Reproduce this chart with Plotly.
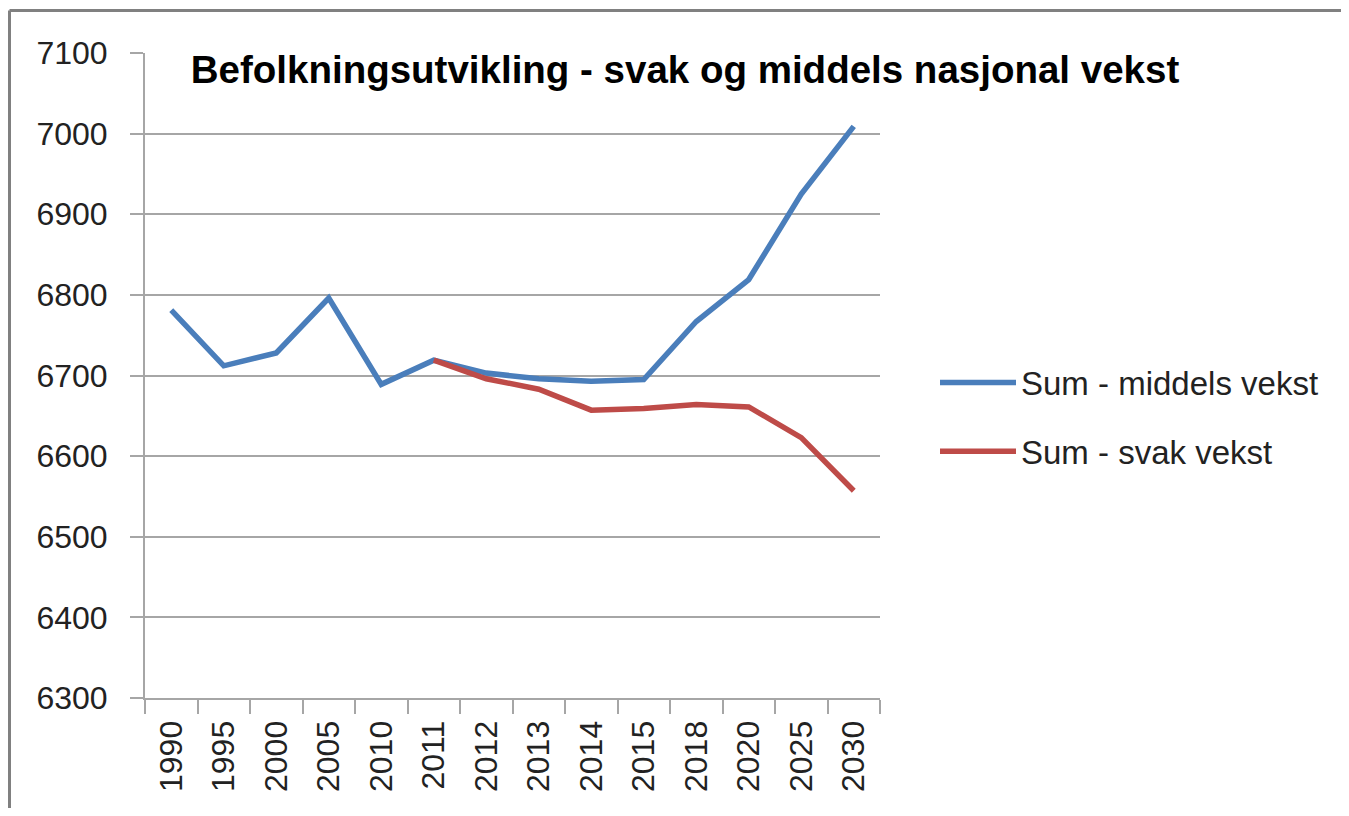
import plotly.graph_objects as go

categories = ["1990", "1995", "2000", "2005", "2010", "2011", "2012", "2013",
              "2014", "2015", "2018", "2020", "2025", "2030"]
middels = [6781, 6712, 6728, 6796, 6689, 6719, 6703, 6696, 6693, 6695,
           6767, 6819, 6925, 7009]
svak_categories = ["2011", "2012", "2013", "2014", "2015", "2018", "2020", "2025", "2030"]
svak = [6719, 6696, 6683, 6657, 6659, 6664, 6661, 6623, 6557]
y_ticks = [6300, 6400, 6500, 6600, 6700, 6800, 6900, 7000, 7100]

FONT = "Liberation Sans, Arial, sans-serif"
GRID = "#a6a6a6"

# page body has an 8px margin, so figure coordinates are offset by 8px
W, H = 1333, 800
L, T, PW, PH = 137, 45, 735, 645
R = W - L - PW
B = H - T - PH

fig = go.Figure()
fig.add_trace(go.Scatter(x=categories, y=middels, mode="lines",
                         name="Sum - middels vekst", legendgroup="a",
                         line=dict(color="#4a7ebb", width=5.5)))
fig.add_trace(go.Scatter(x=svak_categories, y=svak, mode="lines",
                         name="Sum - svak vekst", legendgroup="b",
                         line=dict(color="#be4b48", width=5.5)))

fig.update_layout(
    width=W, height=H,
    margin=dict(l=L, r=R, t=T, b=B),
    paper_bgcolor="white", plot_bgcolor="white",
    font=dict(family=FONT, size=32, color="#222222"),
    title=dict(text="<b>Befolkningsutvikling - svak og middels nasjonal vekst</b>",
               xref="container", yref="container", x=677 / W, y=1 - 62 / H,
               xanchor="center", yanchor="middle",
               font=dict(family=FONT, size=38.5, color="black")),
    showlegend=True,
    legend=dict(x=(937 - 8 - L + 3 - 5) / PW, y=(T + PH - (417 - 8)) / PH,
                xanchor="left", yanchor="middle",
                font=dict(family=FONT, size=33, color="#222222"),
                itemwidth=76, traceorder="grouped", tracegroupgap=23,
                bgcolor="rgba(0,0,0,0)"),
)

fig.update_xaxes(type="category", categoryorder="array", categoryarray=categories,
                 tickangle=-90, showgrid=False, showline=True, linecolor=GRID,
                 linewidth=2, ticks="outside", tickson="boundaries", ticklen=14,
                 tickcolor=GRID, tickwidth=2, tickfont=dict(size=32),
                 ticklabelstandoff=8,
                 range=[-0.5, len(categories) - 0.5])
fig.update_yaxes(range=[6300, 7100], tickvals=y_ticks, showgrid=True,
                 gridcolor=GRID, gridwidth=2, showline=True, linecolor=GRID,
                 linewidth=2, ticks="outside", ticklen=13, tickcolor=GRID,
                 tickwidth=2, ticklabelstandoff=16, tickfont=dict(size=32),
                 zeroline=False)

# frame (left and top edges of the chart border)
fx = (1.5 - L) / PW
fy = (T + PH - 2.5) / PH
fig.add_shape(type="line", xref="paper", yref="paper",
              x0=fx, x1=(W - L) / PW, y0=fy, y1=fy,
              line=dict(color="#808080", width=3))
fig.add_shape(type="line", xref="paper", yref="paper",
              x0=fx, x1=fx, y0=-B / PH, y1=fy,
              line=dict(color="#808080", width=3))

fig.write_html("out.html")
